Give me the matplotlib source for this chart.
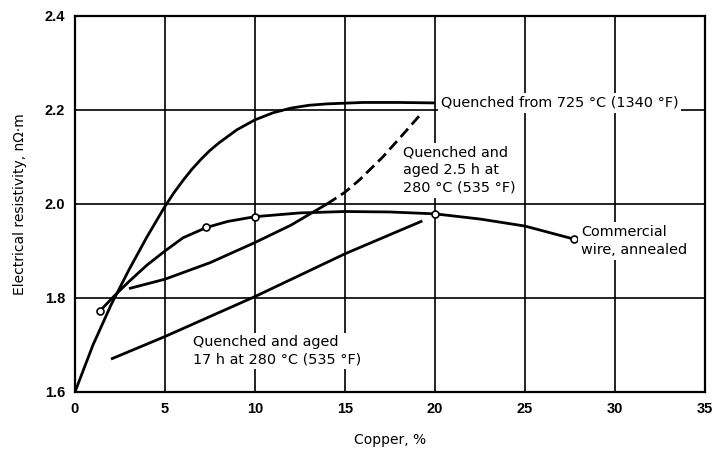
import matplotlib
matplotlib.use('Agg')
import matplotlib.pyplot as plt

plt.rcParams['font.family'] = ['DejaVu Sans']

# quenched from 725 C
q_cu = [0, 1, 2, 3, 4, 5, 5.5, 6, 6.5, 7, 7.5, 8, 9, 10, 11, 12, 13, 14, 16, 18, 20]
q_rho = [1.600, 1.700, 1.785, 1.860, 1.930, 1.995, 2.024, 2.050, 2.074, 2.095, 2.114,
         2.130, 2.158, 2.179, 2.194, 2.204, 2.210, 2.213, 2.216, 2.216, 2.215]

# quenched and aged 2.5 h, solid part then dashed part
a25_cu = [3, 5, 7.5, 10, 12, 14]
a25_rho = [1.820, 1.840, 1.875, 1.918, 1.955, 2.000]
a25d_cu = [14, 15, 15.8, 17.1, 18.2, 19.3]
a25d_rho = [2.000, 2.025, 2.051, 2.100, 2.147, 2.195]

# commercial wire, annealed (curve + measured points)
cw_cu = [1.4, 2.2, 3, 4, 5, 6, 7.3, 8.5, 10, 12.5, 15, 17.5, 20, 22.5, 25, 27.75]
cw_rho = [1.773, 1.805, 1.835, 1.870, 1.900, 1.928, 1.950, 1.963, 1.973,
          1.981, 1.984, 1.983, 1.979, 1.968, 1.953, 1.925]
cw_pts_cu = [1.4, 7.3, 10, 20, 27.75]
cw_pts_rho = [1.773, 1.950, 1.973, 1.979, 1.925]

# quenched and aged 17 h
a17_cu = [2, 5, 10, 15, 19.3]
a17_rho = [1.670, 1.718, 1.803, 1.894, 1.964]

x_ticks = [0, 5, 10, 15, 20, 25, 30, 35]
y_ticks = [1.6, 1.8, 2.0, 2.2, 2.4]

fig = plt.figure(figsize=(7.12, 4.5), dpi=100)
ax = fig.add_axes([0.1053, 0.1289, 0.8848, 0.8356])

for x in x_ticks[1:-1]:
    ax.axvline(x, color='black', lw=1.2, zorder=1)
for y in y_ticks[1:-1]:
    ax.axhline(y, color='black', lw=1.2, zorder=1)

lw = 2.0
ax.plot(q_cu, q_rho, color='black', lw=lw, zorder=3, solid_capstyle='butt')
ax.plot(a25_cu, a25_rho, color='black', lw=lw, zorder=3, solid_capstyle='butt')
ax.plot(a25d_cu, a25d_rho, color='black', lw=lw, zorder=3, dashes=(4, 2))
ax.plot(cw_cu, cw_rho, color='black', lw=lw, zorder=3)
ax.plot(cw_pts_cu, cw_pts_rho, 'o', ms=5, mfc='white', mec='black', mew=1.2, zorder=4)
ax.plot(a17_cu, a17_rho, color='black', lw=lw, zorder=3, solid_capstyle='butt')

box = dict(facecolor='white', edgecolor='none', pad=2)
fs = 10.4
ax.text(20.33, 2.215, 'Quenched from 725 °C (1340 °F)', fontsize=fs, ha='left',
        va='center', bbox=box, zorder=5)
ax.text(18.2, 2.072, 'Quenched and\naged 2.5 h at\n280 °C (535 °F)', fontsize=fs,
        ha='left', va='center', linespacing=1.35, bbox=box, zorder=5)
ax.text(28.12, 1.921, 'Commercial\nwire, annealed', fontsize=fs, ha='left',
        va='center', linespacing=1.35, bbox=box, zorder=5)
ax.text(6.56, 1.687, 'Quenched and aged\n17 h at 280 °C (535 °F)', fontsize=fs,
        ha='left', va='center', linespacing=1.3, bbox=box, zorder=5)

ax.set_xlim(0, 35)
ax.set_ylim(1.6, 2.4)
ax.set_xticks(x_ticks)
ax.set_yticks(y_ticks)
tick_font = dict(family='Liberation Sans', fontweight='bold', fontsize=10.5)
ax.set_xticklabels([str(v) for v in x_ticks], **tick_font)
ax.set_yticklabels(['%.1f' % v for v in y_ticks], **tick_font)
ax.tick_params(length=0, pad=7)
for s in ax.spines.values():
    s.set_linewidth(1.6)

fig.text(390 / 712, 1 - 440 / 450, 'Copper, %', fontsize=10, ha='center', va='center')
fig.text(20 / 712, 1 - 204 / 450, 'Electrical resistivity, nΩ·m', fontsize=10,
         ha='center', va='center', rotation=90)

fig.savefig('out.png', dpi=100)
